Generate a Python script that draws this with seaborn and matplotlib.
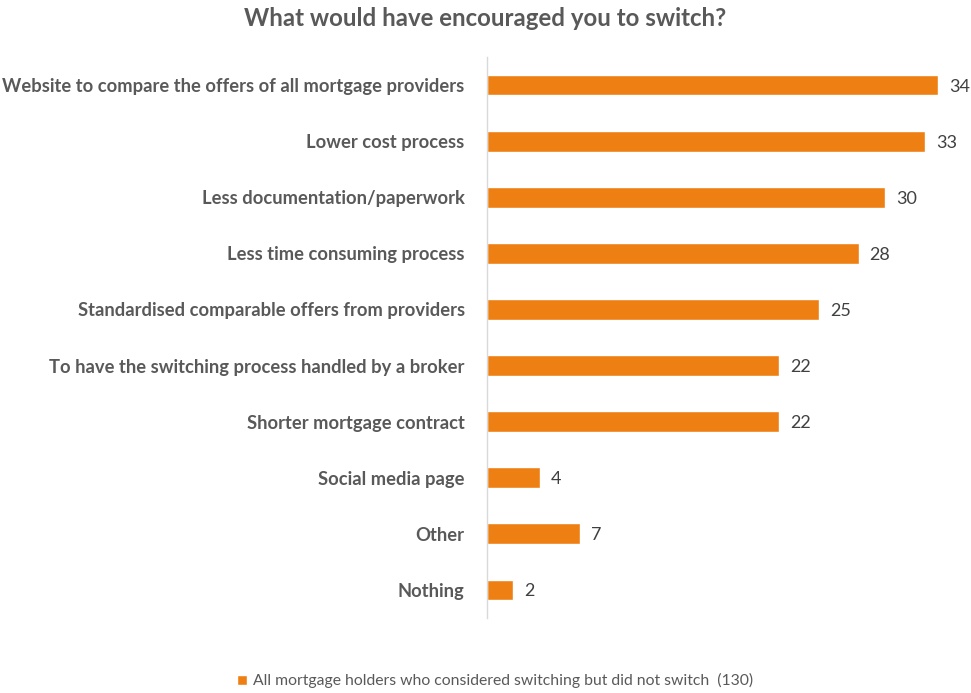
import matplotlib
matplotlib.use("Agg")
import matplotlib.pyplot as plt
import pandas as pd
import seaborn as sns
from matplotlib.patches import Patch

categories = [
    "Website to compare the offers of all mortgage providers",
    "Lower cost process",
    "Less documentation/paperwork",
    "Less time consuming process",
    "Standardised comparable offers from providers",
    "To have the switching process handled by a broker",
    "Shorter mortgage contract",
    "Social media page",
    "Other",
    "Nothing",
]
values = [34, 33, 30, 28, 25, 22, 22, 4, 7, 2]
series_name = "All mortgage holders who considered switching but did not switch  (130)"

ORANGE = "#EE7F12"
GREY = "#595959"

sns.set_theme(style="white")
plt.rcParams["font.family"] = ["Lato", "DejaVu Sans"]

df = pd.DataFrame({"category": categories, "value": values})

fig = plt.figure(figsize=(9.71, 6.93), dpi=100)
ax = fig.add_axes([0.5015, 0.1082, 0.492, 0.8095])
sns.barplot(data=df, y="category", x="value", color=ORANGE, width=0.37,
            saturation=1, ax=ax)

ax.set_xlim(0, 36)
ax.set_xlabel("")
ax.set_ylabel("")
ax.set_xticks([])
for side in ["top", "right", "bottom"]:
    ax.spines[side].set_visible(False)
ax.spines["left"].set_color("#D9D9D9")
ax.spines["left"].set_linewidth(1)
ax.tick_params(axis="y", length=0, pad=16)
for lbl in ax.get_yticklabels():
    lbl.set_fontweight("bold")
    lbl.set_fontsize(13.2)
    lbl.set_color(GREY)

for cont in ax.containers:
    labels = ax.bar_label(cont, padding=8, fontsize=13, color="#404040")
    for t in labels:
        t.set_va("center_baseline")

fig.suptitle("What would have encouraged you to switch?", x=0.5, y=0.99,
             fontsize=17.3, fontweight="bold", color=GREY)

fig.legend(handles=[Patch(facecolor=ORANGE, label=series_name)],
           loc="center", bbox_to_anchor=(0.51, 0.018), frameon=False,
           fontsize=11.3, handlelength=0.6, handleheight=0.6, handletextpad=0.4,
           labelcolor=GREY)

fig.savefig("out.png", dpi=100, facecolor="white")
